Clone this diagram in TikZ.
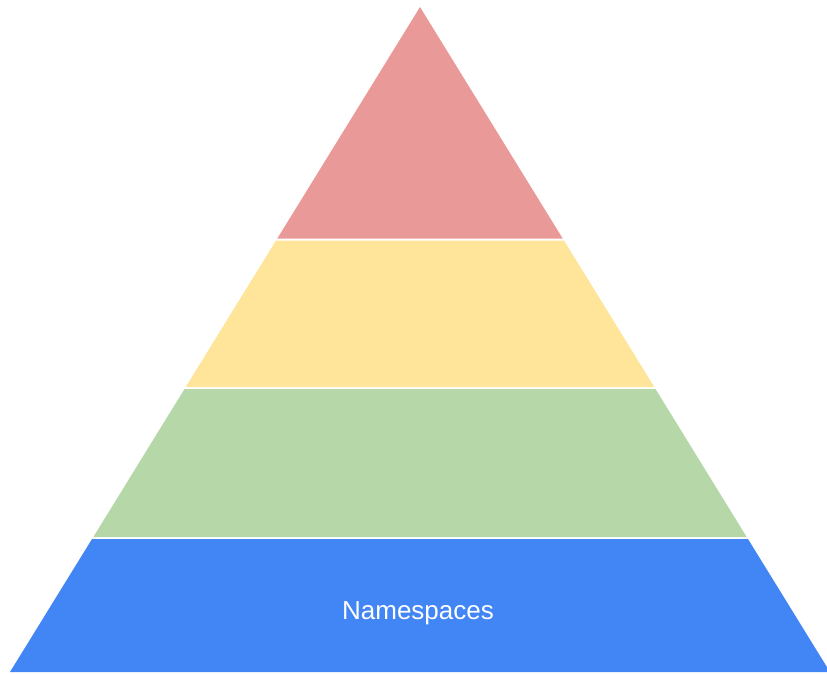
\documentclass[tikz,border=0pt]{standalone}
\usepackage{fontspec}
\setmainfont{Liberation Sans}
\definecolor{tierred}{HTML}{EA9999}
\definecolor{tieryellow}{HTML}{FFE599}
\definecolor{tiergreen}{HTML}{B6D7A8}
\definecolor{tierblue}{HTML}{4285F4}
\tikzset{band/.style={draw=none}}
\begin{document}
\begin{tikzpicture}[x=1pt,y=-1pt]
\useasboundingbox (0,0) rectangle (827,673);
\clip (0,0) rectangle (827,673);
% apex (420,7); slope 0.6165 px per px
\fill[band,tierred] (420,7) -- (562.7,238.5) -- (277.3,238.5) -- cycle;
\fill[band,tieryellow] (276.0,240.5) -- (564.0,240.5) -- (654.3,387) -- (185.7,387) -- cycle;
\fill[band,tiergreen] (184.5,389) -- (655.5,389) -- (746.7,537) -- (93.3,537) -- cycle;
\fill[band,tierblue] (92.0,539) -- (748.0,539) -- (830,672) -- (10,672) -- cycle;
\node[text=white,font=\fontsize{26}{30}\selectfont] (ns) at (418,613) {Namespaces};
\end{tikzpicture}
\end{document}
